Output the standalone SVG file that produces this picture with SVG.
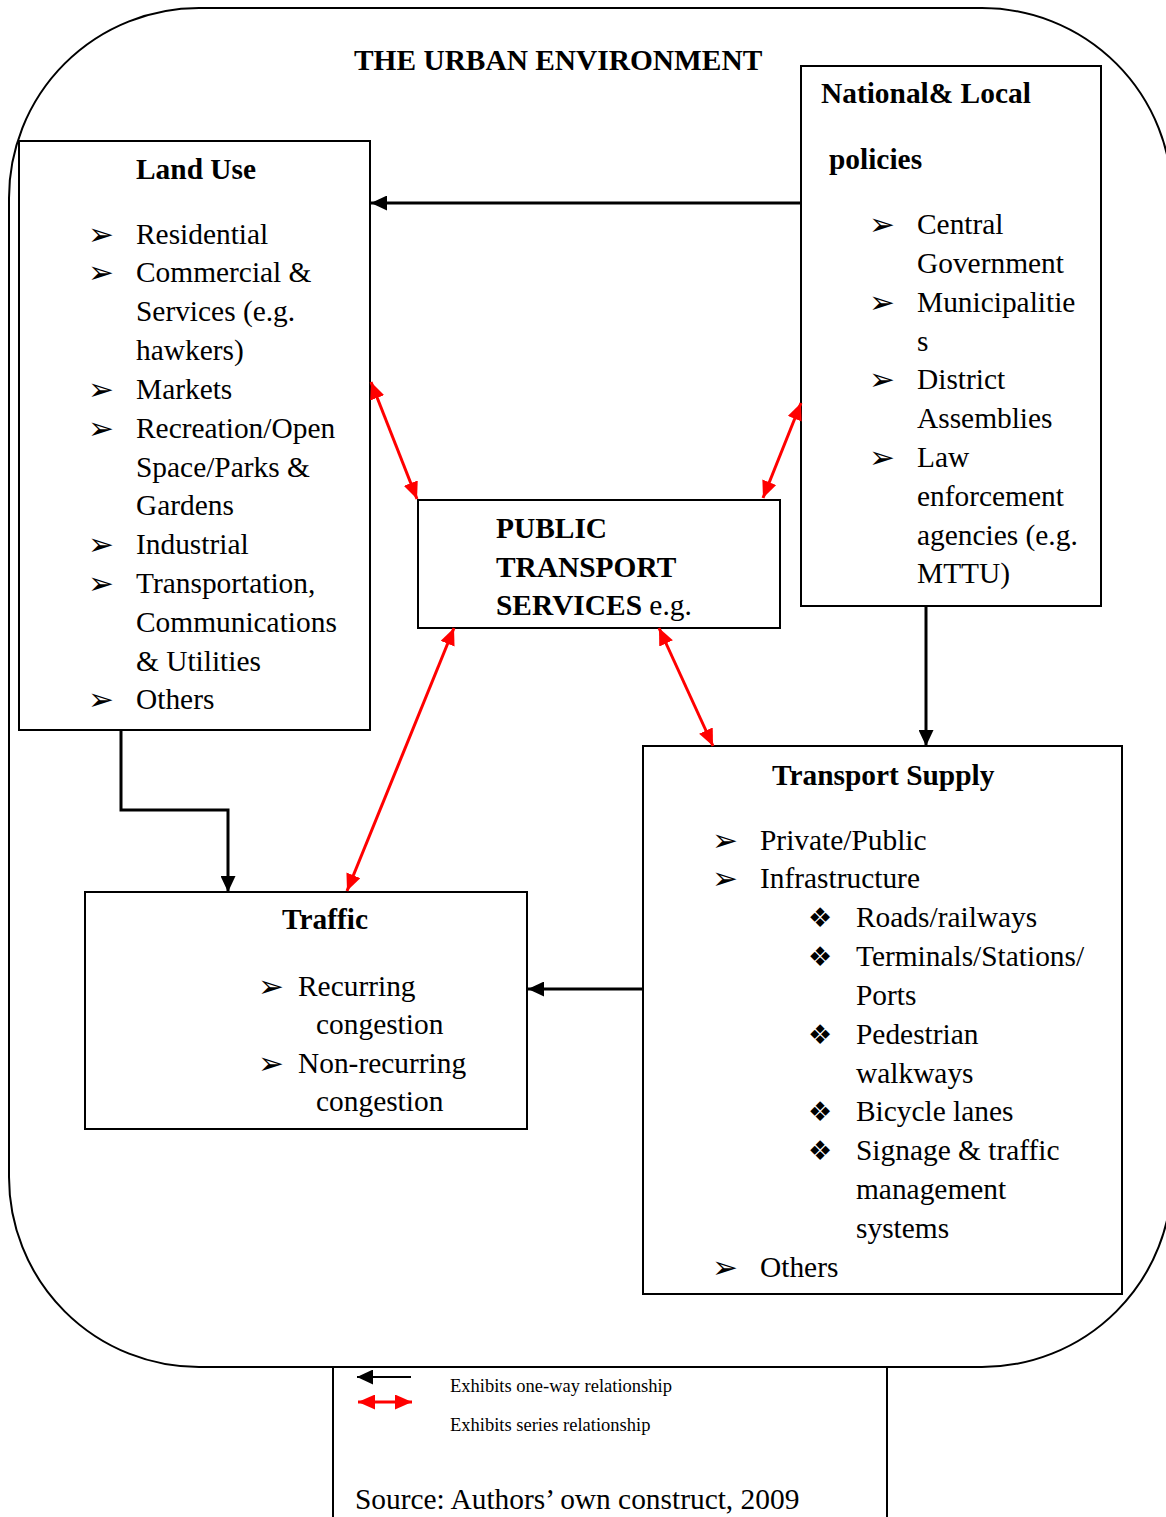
<svg xmlns="http://www.w3.org/2000/svg" width="1166" height="1517" viewBox="0 0 1166 1517">
<style>
.box{fill:#fff;stroke:#000;stroke-width:2}
.t{font-family:"Liberation Serif","Times New Roman",serif;font-size:29.4px;fill:#000}
.b{font-weight:bold}
.bl{font-family:"DejaVu Sans",sans-serif;font-size:31px;fill:#000}
.dm{font-family:"DejaVu Sans",sans-serif;font-size:27px;fill:#000}
.sm{font-family:"Liberation Serif","Times New Roman",serif;font-size:18.5px;fill:#000}
.k{fill:none;stroke:#000;stroke-width:3}
.r{fill:none;stroke:#f00;stroke-width:3}
</style>
<defs>
<marker id="ak" markerUnits="userSpaceOnUse" markerWidth="16" markerHeight="15" refX="16" refY="7.5" orient="auto-start-reverse"><path d="M0,0 L16,7.5 L0,15 z" fill="#000"/></marker>
<marker id="ar" markerUnits="userSpaceOnUse" markerWidth="17" markerHeight="15" refX="17" refY="7.5" orient="auto-start-reverse"><path d="M0,0 L17,7.5 L0,15 z" fill="#f00"/></marker>
</defs>
<rect width="1166" height="1517" fill="#fff"/>
<g id="urban-environment">
<rect x="9" y="8" width="1163" height="1359" rx="190" ry="190" fill="none" stroke="#000" stroke-width="2"/>
<text class="t b" x="354" y="70">THE URBAN ENVIRONMENT</text>
</g>
<g id="land-use">
<rect class="box" x="19" y="141" width="351" height="589"/>
<text class="t b" x="136" y="179">Land Use</text>
<g class="bl"><text x="88" y="245">➢</text><text x="88" y="283">➢</text><text x="88" y="400">➢</text><text x="88" y="439">➢</text><text x="88" y="555">➢</text><text x="88" y="594">➢</text><text x="88" y="710">➢</text></g>
<g class="t">
<text x="136" y="244">Residential</text>
<text x="136" y="282">Commercial &amp;</text>
<text x="136" y="321">Services (e.g.</text>
<text x="136" y="360">hawkers)</text>
<text x="136" y="399">Markets</text>
<text x="136" y="438">Recreation/Open</text>
<text x="136" y="477">Space/Parks &amp;</text>
<text x="136" y="515">Gardens</text>
<text x="136" y="554">Industrial</text>
<text x="136" y="593">Transportation,</text>
<text x="136" y="632">Communications</text>
<text x="136" y="671">&amp; Utilities</text>
<text x="136" y="709">Others</text>
</g>
</g>
<g id="national-local-policies">
<rect class="box" x="801" y="66" width="300" height="540"/>
<text class="t b" x="821" y="103">National&amp; Local</text>
<text class="t b" x="829" y="169">policies</text>
<g class="bl"><text x="869" y="235">➢</text><text x="869" y="313">➢</text><text x="869" y="390">➢</text><text x="869" y="468">➢</text></g>
<g class="t">
<text x="917" y="234">Central</text>
<text x="917" y="273">Government</text>
<text x="917" y="312">Municipalitie</text>
<text x="917" y="351">s</text>
<text x="917" y="389">District</text>
<text x="917" y="428">Assemblies</text>
<text x="917" y="467">Law</text>
<text x="917" y="506">enforcement</text>
<text x="917" y="545">agencies (e.g.</text>
<text x="917" y="583">MTTU)</text>
</g>
</g>
<g id="public-transport-services">
<rect class="box" x="418" y="500" width="362" height="128"/>
<text class="t b" x="496" y="538">PUBLIC</text>
<text class="t b" x="496" y="577">TRANSPORT</text>
<text class="t" x="496" y="615"><tspan class="b">SERVICES</tspan> e.g.</text>
</g>
<g id="transport-supply">
<rect class="box" x="643" y="746" width="479" height="548"/>
<text class="t b" x="772" y="785">Transport Supply</text>
<g class="bl"><text x="712" y="851">➢</text><text x="712" y="889">➢</text><text x="712" y="1278">➢</text></g>
<g class="dm"><text x="808" y="927">❖</text><text x="808" y="966">❖</text><text x="808" y="1044">❖</text><text x="808" y="1121">❖</text><text x="808" y="1160">❖</text></g>
<g class="t">
<text x="760" y="850">Private/Public</text>
<text x="760" y="888">Infrastructure</text>
<text x="856" y="927">Roads/railways</text>
<text x="856" y="966">Terminals/Stations/</text>
<text x="856" y="1005">Ports</text>
<text x="856" y="1044">Pedestrian</text>
<text x="856" y="1083">walkways</text>
<text x="856" y="1121">Bicycle lanes</text>
<text x="856" y="1160">Signage &amp; traffic</text>
<text x="856" y="1199">management</text>
<text x="856" y="1238">systems</text>
<text x="760" y="1277">Others</text>
</g>
</g>
<g id="traffic">
<rect class="box" x="85" y="892" width="442" height="237"/>
<text class="t b" x="282" y="929">Traffic</text>
<g class="bl"><text x="258" y="997">➢</text><text x="258" y="1074">➢</text></g>
<g class="t">
<text x="298" y="996">Recurring</text>
<text x="316" y="1034">congestion</text>
<text x="298" y="1073">Non-recurring</text>
<text x="316" y="1111">congestion</text>
</g>
</g>
<g id="connectors">
<line class="k" x1="801" y1="203" x2="371" y2="203" marker-end="url(#ak)"/>
<line class="k" x1="926" y1="606" x2="926" y2="746" marker-end="url(#ak)"/>
<polyline class="k" points="121,730 121,810 228,810 228,892" marker-end="url(#ak)"/>
<line class="k" x1="643" y1="989" x2="528" y2="989" marker-end="url(#ak)"/>
<line class="r" x1="371" y1="382" x2="417" y2="499" marker-start="url(#ar)" marker-end="url(#ar)"/>
<line class="r" x1="801" y1="403" x2="763" y2="498" marker-start="url(#ar)" marker-end="url(#ar)"/>
<line class="r" x1="454" y1="628" x2="347" y2="891" marker-start="url(#ar)" marker-end="url(#ar)"/>
<line class="r" x1="659" y1="628" x2="713" y2="746" marker-start="url(#ar)" marker-end="url(#ar)"/>
</g>
<g id="legend">
<line x1="333" y1="1367" x2="333" y2="1517" stroke="#000" stroke-width="2"/>
<line x1="887" y1="1367" x2="887" y2="1517" stroke="#000" stroke-width="2"/>
<line x1="411" y1="1377" x2="357" y2="1377" stroke="#000" stroke-width="2" marker-end="url(#ak)"/>
<line x1="358" y1="1402" x2="412" y2="1402" stroke="#f00" stroke-width="3" marker-start="url(#ar)" marker-end="url(#ar)"/>
<text class="sm" x="450" y="1392">Exhibits one-way relationship</text>
<text class="sm" x="450" y="1431">Exhibits series relationship</text>
<text class="t" x="355" y="1509">Source: Authors’ own construct, 2009</text>
</g>
</svg>
